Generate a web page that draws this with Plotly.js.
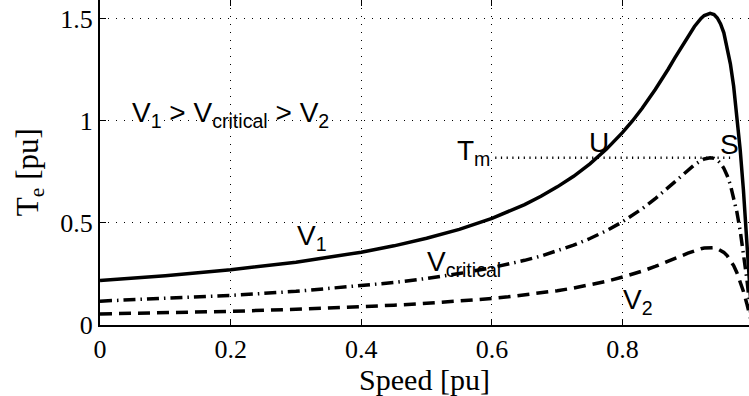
<!DOCTYPE html>
<html>
<head>
<meta charset="utf-8">
<script src="https://cdn.plot.ly/plotly-3.0.1.min.js"></script>
<style>html,body{margin:0;padding:0;background:#fff;}#chart{width:749px;height:396px;}</style>
</head>
<body>
<div id="chart"></div>
<script>
// Speed [pu] sample points
var speed = [0, 0.1, 0.2, 0.3, 0.4, 0.45, 0.5, 0.55, 0.6, 0.625, 0.65, 0.675, 0.7, 0.725, 0.75, 0.775, 0.8, 0.815, 0.83, 0.85, 0.86, 0.87, 0.88, 0.89, 0.9, 0.91, 0.92, 0.925, 0.934, 0.94, 0.945, 0.95, 0.955, 0.96, 0.965, 0.97, 0.975, 0.98, 0.985, 0.99, 0.995, 0.9985];
// Electromagnetic torque [pu] for each voltage level
var teV1 = [0.218, 0.242, 0.271, 0.308, 0.357, 0.388, 0.425, 0.469, 0.523, 0.555, 0.590, 0.631, 0.677, 0.729, 0.790, 0.861, 0.944, 1.000, 1.062, 1.154, 1.203, 1.255, 1.309, 1.363, 1.415, 1.463, 1.503, 1.517, 1.528, 1.522, 1.505, 1.476, 1.432, 1.365, 1.280, 1.170, 1.030, 0.860, 0.660, 0.430, 0.160, 0];
var teVcrit = [0.117, 0.130, 0.145, 0.165, 0.192, 0.208, 0.228, 0.252, 0.281, 0.298, 0.317, 0.338, 0.363, 0.391, 0.424, 0.462, 0.506, 0.537, 0.570, 0.619, 0.646, 0.674, 0.702, 0.731, 0.759, 0.785, 0.806, 0.814, 0.820, 0.817, 0.808, 0.792, 0.768, 0.733, 0.687, 0.628, 0.553, 0.462, 0.354, 0.231, 0.086, 0];
var teV2 = [0.054, 0.060, 0.067, 0.077, 0.089, 0.097, 0.106, 0.117, 0.130, 0.138, 0.147, 0.157, 0.168, 0.181, 0.197, 0.214, 0.235, 0.249, 0.264, 0.287, 0.299, 0.312, 0.325, 0.339, 0.352, 0.364, 0.374, 0.377, 0.380, 0.379, 0.374, 0.367, 0.356, 0.340, 0.318, 0.291, 0.256, 0.214, 0.164, 0.107, 0.040, 0];
// Load torque level Tm
var tmSpeed = [0.605, 0.97];
var tmLevel = [0.82, 0.82];
var xTicks = [0, 0.2, 0.4, 0.6, 0.8];
var xTickText = ['0', '0.2', '0.4', '0.6', '0.8'];
var yTicks = [0, 0.5, 1, 1.5];
var yTickText = ['0', '0.5', '1', '1.5'];

var traces = [
  {x: speed, y: teV1, mode: 'lines', line: {color: '#000', width: 3.5}, hoverinfo: 'skip'},
  {x: speed, y: teVcrit, mode: 'lines', line: {color: '#000', width: 3.5, dash: '12px,5px,1.5px,5px'}, hoverinfo: 'skip'},
  {x: speed, y: teV2, mode: 'lines', line: {color: '#000', width: 3.5, dash: '12px,7px'}, hoverinfo: 'skip'},
  {x: tmSpeed, y: tmLevel, mode: 'lines', line: {color: '#000', width: 2.5, dash: '1.2px,4.5px'}, hoverinfo: 'skip'}
];

var sans = 'Liberation Sans';
var serif = 'Liberation Serif';
function ann(text, x, y, xa) {
  return {text: text, x: x, y: y, xref: 'x', yref: 'y', showarrow: false,
          xanchor: xa || 'left', yanchor: 'middle', font: {family: sans, size: 28, color: '#000'}};
}

var layout = {
  width: 749, height: 396,
  margin: {l: 100, r: 0, t: 0, b: 71},
  paper_bgcolor: '#fff', plot_bgcolor: '#fff',
  showlegend: false,
  xaxis: {
    range: [0, 0.9935], tickvals: xTicks, ticktext: xTickText,
    showgrid: true, gridcolor: '#000', gridwidth: 1, griddash: '1px,7px',
    zeroline: false, showline: true, linecolor: '#000', linewidth: 2,
    ticks: 'inside', ticklen: 6, tickcolor: '#000', mirror: 'ticks',
    tickfont: {family: serif, size: 26, color: '#000'},
    title: {text: 'Speed [pu]', font: {family: serif, size: 30, color: '#000'}, standoff: 0}
  },
  yaxis: {
    range: [0, 1.593], tickvals: yTicks, ticktext: yTickText,
    showgrid: true, gridcolor: '#000', gridwidth: 1, griddash: '1px,7px',
    zeroline: false, showline: true, linecolor: '#000', linewidth: 2,
    ticks: 'inside', ticklen: 6, tickcolor: '#000',
    tickfont: {family: serif, size: 26, color: '#000'}
  },
  annotations: [
    {text: 'T<sub>e</sub> [pu]', xref: 'paper', yref: 'paper', x: -0.108, y: 0.47,
     xanchor: 'center', yanchor: 'middle', textangle: -90, showarrow: false,
     font: {family: serif, size: 31, color: '#000'}},
    ann('V<sub>1</sub> > V<sub>critical</sub> > V<sub>2</sub>', 0.2, 1.03, 'center'),
    ann('T<sub>m</sub>', 0.543, 0.845),
    ann('U', 0.764, 0.895, 'center'),
    ann('S', 0.963, 0.885, 'center'),
    ann('V<sub>1</sub>', 0.299, 0.43),
    ann('V<sub>critical</sub>', 0.497, 0.30),
    ann('V<sub>2</sub>', 0.798, 0.115)
  ]
};

Plotly.newPlot('chart', traces, layout, {displayModeBar: false, staticPlot: true});
</script>
</body>
</html>
